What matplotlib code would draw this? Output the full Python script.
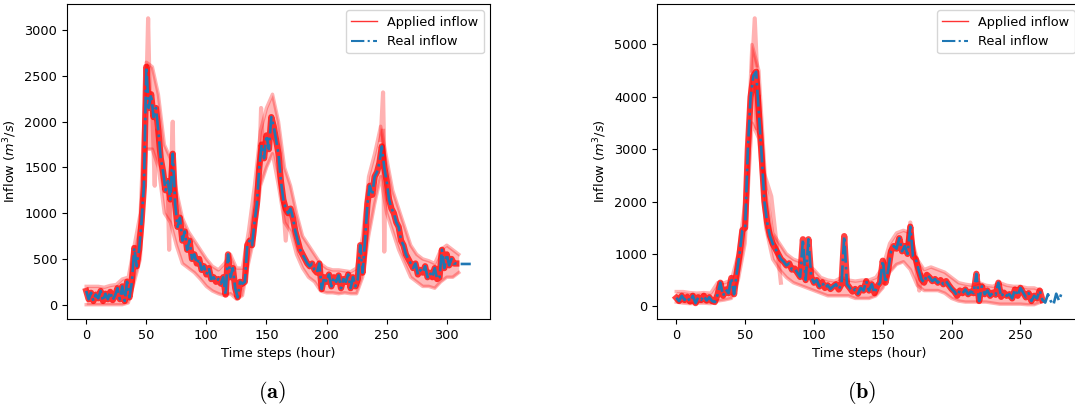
import numpy as np
import matplotlib
matplotlib.use("Agg")
import matplotlib.pyplot as plt
from matplotlib.lines import Line2D

# ================= DATA =================
# panel (a): real inflow, every 2 hours, 0..320
real_a = [150, 60, 130, 40, 110, 70, 150, 40, 120, 60,
          140, 50, 100, 180, 60, 200, 40, 250, 80, 250,
          620, 420, 600, 900, 1300, 2600, 2150, 2300, 2050, 2150,
          1900, 1600, 1450, 1250, 1350, 1150, 1650, 1100, 850, 950,
          700, 800, 600, 700, 500, 550, 450, 500, 380, 420,
          330, 400, 280, 300, 250, 280, 230, 300, 110, 550,
          300, 400, 180, 80, 250, 230, 250, 650, 700, 650,
          900, 1100, 1500, 1750, 1600, 1850, 1700, 2050, 1950, 1800,
          1650, 1350, 1150, 1050, 1000, 1050, 950, 800, 700, 600,
          550, 500, 450, 420, 450, 380, 350, 450, 170, 300,
          250, 330, 200, 300, 250, 320, 180, 280, 250, 330,
          180, 300, 200, 280, 650, 350, 700, 1100, 1300, 1200,
          1400, 1450, 1550, 1730, 1500, 1350, 1150, 1050, 1000, 900,
          850, 700, 650, 550, 500, 450, 400, 450, 330, 380,
          350, 420, 300, 350, 300, 400, 280, 300, 600, 400,
          550, 430, 500, 450, 450, 445, 445, 445, 445, 445,
          445]
t_a = np.arange(0, 321, 2)

# panel (a): spread of the applied inflows, every 5 hours, 0..310
band_t_a = np.arange(0, 311, 5)
band_lo_a = [0, 0, 0, 0, 0, 0, 0, 20, 250, 500,
             1700, 1700, 1500, 1000, 900, 650, 450, 400, 350, 280,
             200, 150, 120, 100, 120, 60, 100, 450, 750, 1300,
             1500, 1650, 1300, 900, 800, 550, 400, 300, 250, 150,
             130, 130, 120, 130, 120, 120, 300, 750, 1100, 1400,
             1000, 800, 600, 450, 300, 250, 200, 200, 180, 250,
             300, 300, 350]
band_hi_a = [200, 200, 200, 190, 210, 220, 280, 300, 650, 1000,
             2650, 2600, 2300, 1750, 1600, 1250, 950, 800, 700, 600,
             500, 420, 380, 450, 550, 400, 400, 800, 1300, 1900,
             2150, 2300, 2000, 1500, 1300, 1000, 750, 650, 550, 450,
             400, 380, 380, 370, 360, 400, 750, 1400, 1650, 1950,
             1600, 1250, 1050, 850, 650, 550, 500, 480, 450, 600,
             650, 600, 550]
red_end_a = 308
# single ensemble members that run away from the rest
spikes_a = [([50, 51.5, 53], [2300, 3130, 2200]),
            ([55, 57, 58], [2100, 1300, 1900]),
            ([68, 69, 70], [1200, 600, 1300]),
            ([70, 72, 73], [1300, 2000, 1250]),
            ([144, 145.5, 147], [1500, 2150, 1700]),
            ([164, 166, 168], [1100, 700, 1000]),
            ([245, 247, 248], [1800, 2320, 1600]),
            ([247, 248, 249], [1900, 580, 1400])]

# panel (b): real inflow, every 2 hours, 0..280
real_b = [160, 100, 200, 120, 180, 90, 200, 60, 170, 120,
          200, 110, 170, 100, 80, 220, 450, 200, 320, 250,
          540, 230, 650, 1000, 1450, 1500, 3000, 4000, 4400, 4480,
          3700, 2900, 2000, 1600, 1350, 1200, 1100, 1000, 900, 850,
          780, 820, 700, 720, 640, 560, 1280, 500, 1280, 560,
          450, 500, 380, 460, 350, 400, 330, 380, 420, 320,
          420, 1340, 420, 350, 280, 330, 240, 350, 300, 480,
          300, 420, 250, 380, 450, 870, 450, 700, 1050, 1150,
          1100, 1300, 1050, 1150, 1000, 1520, 950, 900, 700, 520,
          450, 600, 550, 480, 520, 450, 500, 420, 480, 400,
          330, 280, 200, 300, 250, 320, 230, 280, 250, 620,
          100, 380, 230, 300, 200, 260, 220, 450, 180, 260,
          200, 230, 150, 320, 200, 350, 260, 170, 250, 100,
          200, 150, 300, 120, 70, 230, 100, 30, 240, 110,
          260]
t_b = np.arange(0, 281, 2)

band_t_b = np.arange(0, 266, 5)
band_lo_b = [80, 60, 50, 60, 60, 50, 100, 120, 150, 500,
             1200, 3500, 3200, 1500, 900, 700, 550, 450, 400, 350,
             300, 250, 200, 200, 200, 200, 150, 150, 150, 200,
             350, 650, 800, 850, 700, 400, 300, 300, 300, 250,
             150, 100, 80, 80, 80, 80, 60, 40, 40, 40,
             40, 30, 30, 80]
band_hi_b = [280, 280, 260, 250, 260, 250, 450, 450, 500, 1000,
             2000, 5000, 4500, 2300, 1400, 1200, 1000, 900, 850, 800,
             700, 550, 500, 480, 550, 500, 480, 500, 500, 550,
             750, 1200, 1400, 1450, 1400, 900, 700, 750, 700, 650,
             550, 450, 420, 400, 450, 400, 380, 450, 400, 380,
             380, 350, 350, 300]
red_end_b = 266
spikes_b = [([55, 57, 58.5], [4500, 5500, 4600]),
            ([57.5, 58.5, 60], [4200, 3400, 4000]),
            ([63, 69, 76], [2600, 2100, 450]),
            ([168, 170, 172], [1200, 1600, 1100]),
            ([173, 176.5, 178], [1000, 300, 600])]

panels = [
    (t_a, real_a, band_t_a, band_lo_a, band_hi_a, red_end_a, spikes_a, "(a)"),
    (t_b, real_b, band_t_b, band_lo_b, band_hi_b, red_end_b, spikes_b, "(b)"),
]

# ================= PLOT =================
FS = 9.3
fig = plt.figure(figsize=(10.75, 4.12), dpi=100)
ax_a = fig.add_axes([67 / 1075, 93 / 412, 423 / 1075, 315 / 412])
ax_b = fig.add_axes([657 / 1075, 93 / 412, 424 / 1075, 315 / 412])
caption_x = [272 / 1075, 862 / 1075]

for ax, (t, real, bt, lo, hi, red_end, spikes, cap), cx in zip([ax_a, ax_b], panels, caption_x):
    real = np.array(real)
    ax.fill_between(bt, lo, hi, color="red", alpha=0.28, lw=0)
    ax.plot(bt, lo, color="red", alpha=0.3, lw=2.5)
    ax.plot(bt, hi, color="red", alpha=0.3, lw=2.5)
    keep = t <= red_end
    ax.plot(t[keep], real[keep], color="red", alpha=0.75, lw=4.5, solid_joinstyle="round")
    for sx, sy in spikes:
        ax.plot(sx, sy, color="red", alpha=0.3, lw=3)
    ax.plot(t, real, color="#1f77b4", ls="-.", lw=1.9)

    ax.set_xlabel("Time steps (hour)", fontsize=FS)
    ax.set_ylabel("Inflow ($m^3/s$)", fontsize=FS)
    ax.tick_params(labelsize=FS)
    handles = [Line2D([], [], color="red", lw=1, alpha=0.8),
               Line2D([], [], color="#1f77b4", ls="-.", lw=1.5)]
    ax.legend(handles, ["Applied inflow", "Real inflow"], loc="upper right", fontsize=FS)
    fig.text(cx, 1 - 393 / 412, r"$\mathbf{" + cap + "}$", ha="center", va="center",
             fontsize=16, math_fontfamily="cm")

fig.savefig("out.png", dpi=100)
